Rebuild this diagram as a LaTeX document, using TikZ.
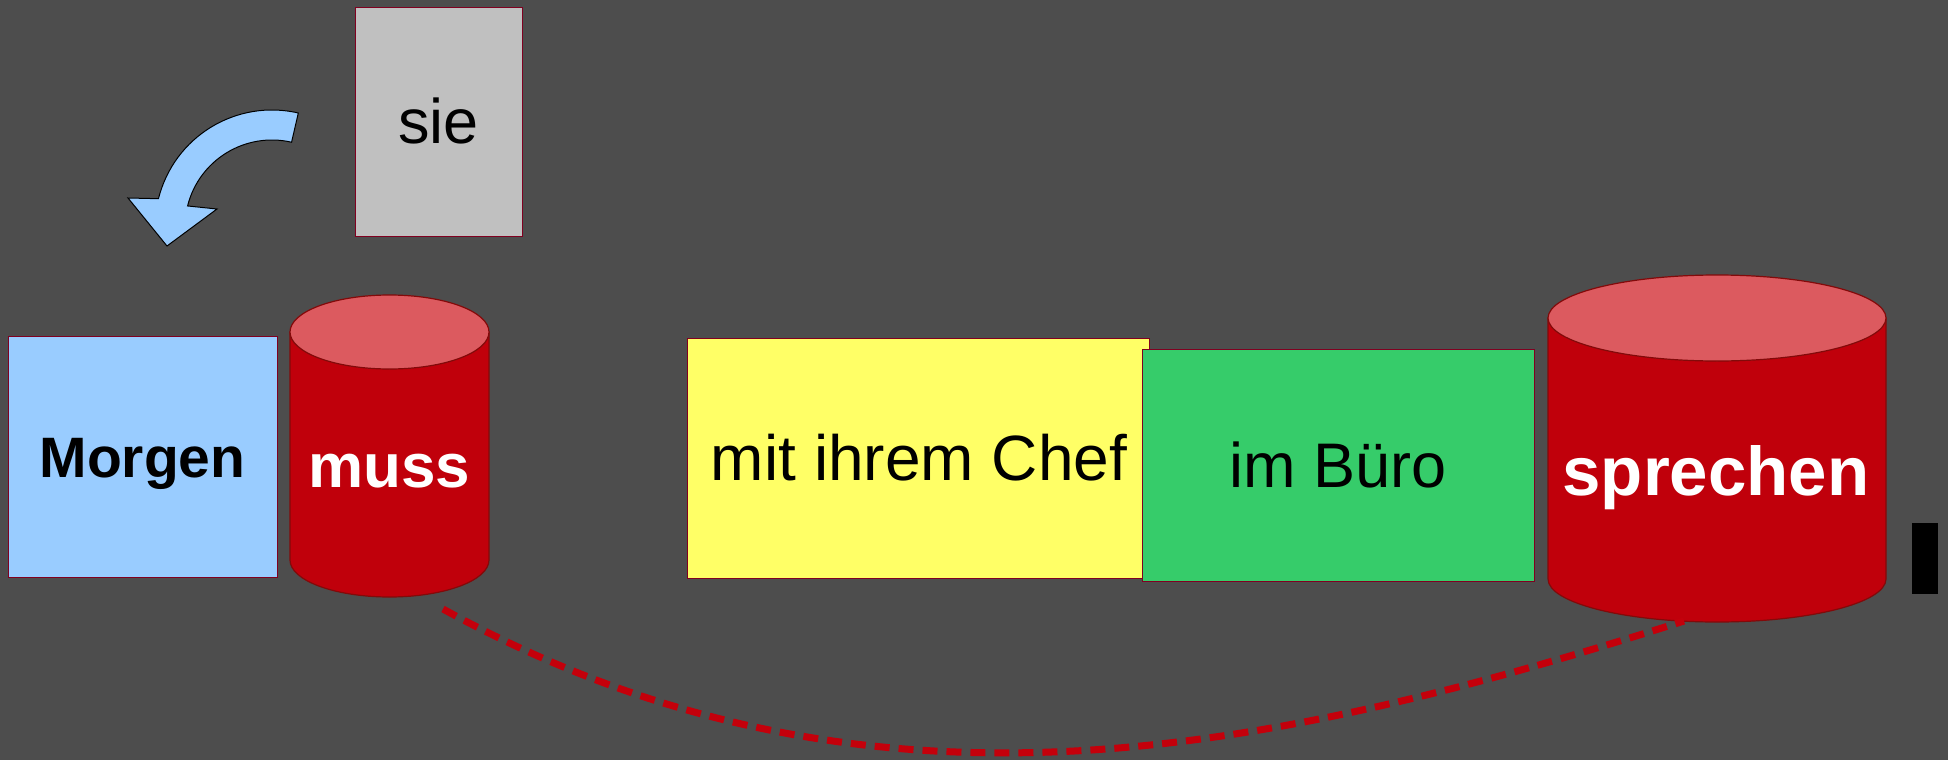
\documentclass[tikz,border=0pt]{standalone}
\usepackage{fontspec}
\setmainfont{Liberation Sans}
\usetikzlibrary{calc}
\definecolor{bg}{RGB}{77,77,77}
\definecolor{cylbody}{RGB}{192,0,11}
\definecolor{cyltop}{RGB}{220,90,95}
\definecolor{cylline}{RGB}{130,10,10}
\definecolor{boxline}{RGB}{128,0,32}
\definecolor{lblue}{RGB}{153,204,255}
\definecolor{lyellow}{RGB}{255,255,102}
\definecolor{lgreen}{RGB}{54,204,106}
\definecolor{lgray}{RGB}{192,192,192}
\definecolor{dashred}{RGB}{196,0,11}
\begin{document}
\begin{tikzpicture}[x=1pt,y=-1pt,
  wbox/.style={draw=boxline, line width=1.2pt, inner sep=0pt, anchor=north west},
  cylb/.style={fill=cylbody, draw=cylline, line width=1.2pt},
  cylt/.style={fill=cyltop, draw=cylline, line width=1.2pt},
  lbl/.style={anchor=base, inner sep=0pt},
  dashline/.style={draw=dashred, line width=7pt, dash pattern=on 15pt off 9pt},
  bendarrow/.style={fill=lblue, draw=black, line width=1pt, line join=miter}
]
\fill[bg] (0,0) rectangle (1948,760);
\useasboundingbox (0,0) rectangle (1948,760);

% boxes
\node[wbox, fill=lgray, minimum width=167pt, minimum height=229pt] (siebox) at (355,7) {};
\node[wbox, fill=lblue, minimum width=269pt, minimum height=241pt] (morgenbox) at (8,336) {};
\node[wbox, fill=lyellow, minimum width=462pt, minimum height=240pt] (chefbox) at (687,338) {};
\node[wbox, fill=lgreen, minimum width=392pt, minimum height=232pt] (buerobox) at (1142,349) {};
\node[fill=black, inner sep=0pt, anchor=north west, minimum width=26pt, minimum height=71pt] (bar) at (1912,523) {};

% cylinder muss
\path[cylb] (290,332) -- (290,560) arc[start angle=180, end angle=0, x radius=99.5, y radius=37] -- (489,332) -- cycle;
\path[cylt] (389.5,332) ellipse[x radius=99.5, y radius=37];
% cylinder sprechen
\path[cylb] (1548,318) -- (1548,579) arc[start angle=180, end angle=0, x radius=169, y radius=43] -- (1886,318) -- cycle;
\path[cylt] (1717,318) ellipse[x radius=169, y radius=43];

% texts
\node[lbl, font=\fontsize{63}{70}\selectfont] (sie) at (438.5,143) {sie};
\node[lbl, font=\fontsize{57}{64}\selectfont\bfseries] (morgen) at (142.5,477) {Morgen};
\node[lbl, font=\fontsize{62}{70}\selectfont\bfseries, text=white] (muss) at (389.5,487) {muss};
\node[lbl, font=\fontsize{64}{72}\selectfont] (chef) at (919,480) {mit ihrem Chef};
\node[lbl, font=\fontsize{63}{70}\selectfont] (buero) at (1338,487) {im Büro};
\node[lbl, font=\fontsize{69}{76}\selectfont\bfseries, text=white] (sprechen) at (1716,495) {sprechen};

% curved arrow
\coordinate (ac) at (272,227);
\path[bendarrow] ($(ac)+(-77:117)$) arc[start angle=-77, end angle=-166, radius=117]
  -- (128,198) -- (167,246) -- (217,209)
  -- ($(ac)+(-166:87)$) arc[start angle=-166, end angle=-77, radius=87] -- cycle;

% dashed connector
\coordinate (mussfoot) at (443,609);
\coordinate (sprechenfoot) at (1684,621);
\draw[dashline] (mussfoot) .. controls (863,840) and (1265,754) .. (sprechenfoot);
\end{tikzpicture}
\end{document}
